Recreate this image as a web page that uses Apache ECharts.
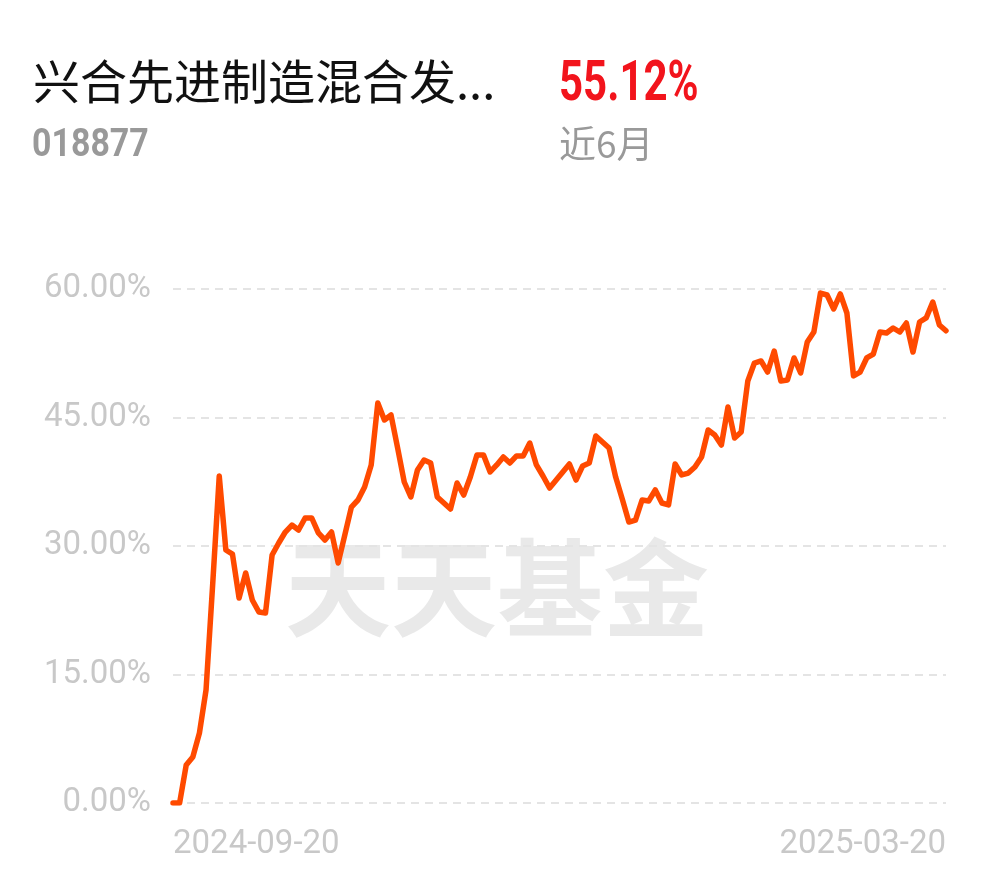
<!DOCTYPE html>
<html>
<head>
<meta charset="utf-8">
<script src="https://cdn.jsdelivr.net/npm/echarts@6/dist/echarts.min.js"></script>
<style>
html,body{margin:0;padding:0;background:#fff;}
#chart{width:990px;height:878px;}
</style>
</head>
<body>
<div id="chart"></div>
<script>
const fundName = '兴合先进制造混合发...';
const fundCode = '018877';
const periodReturn = '55.12%';
const periodLabel = '近6月';
const watermark = '天天基金';

const dates = [
 '2024-09-20','2024-09-23','2024-09-24','2024-09-25','2024-09-26','2024-09-27','2024-09-30',
 '2024-10-08','2024-10-09','2024-10-10','2024-10-11','2024-10-14','2024-10-15','2024-10-16','2024-10-17','2024-10-18',
 '2024-10-21','2024-10-22','2024-10-23','2024-10-24','2024-10-25','2024-10-28','2024-10-29','2024-10-30','2024-10-31',
 '2024-11-01','2024-11-04','2024-11-05','2024-11-06','2024-11-07','2024-11-08','2024-11-11','2024-11-12','2024-11-13',
 '2024-11-14','2024-11-15','2024-11-18','2024-11-19','2024-11-20','2024-11-21','2024-11-22','2024-11-25','2024-11-26',
 '2024-11-27','2024-11-28','2024-11-29',
 '2024-12-02','2024-12-03','2024-12-04','2024-12-05','2024-12-06','2024-12-09','2024-12-10','2024-12-11','2024-12-12',
 '2024-12-13','2024-12-16','2024-12-17','2024-12-18','2024-12-19','2024-12-20','2024-12-23','2024-12-24','2024-12-25',
 '2024-12-26','2024-12-27','2024-12-30','2024-12-31',
 '2025-01-02','2025-01-03','2025-01-06','2025-01-07','2025-01-08','2025-01-09','2025-01-10','2025-01-13','2025-01-14',
 '2025-01-15','2025-01-16','2025-01-17','2025-01-20','2025-01-21','2025-01-22','2025-01-23','2025-01-24','2025-01-27',
 '2025-02-05','2025-02-06','2025-02-07','2025-02-10','2025-02-11','2025-02-12','2025-02-13','2025-02-14','2025-02-17',
 '2025-02-18','2025-02-19','2025-02-20','2025-02-21','2025-02-24','2025-02-25','2025-02-26','2025-02-27','2025-02-28',
 '2025-03-03','2025-03-04','2025-03-05','2025-03-06','2025-03-07','2025-03-10','2025-03-11','2025-03-12','2025-03-13',
 '2025-03-14','2025-03-17','2025-03-18','2025-03-19','2025-03-20'
];

const returns = [
 0.00, 0.00, 4.44, 5.37, 8.17, 13.19, 25.45,
 38.17, 29.53, 29.06, 23.93, 26.85, 23.70, 22.30, 22.18, 28.95,
 30.35, 31.63, 32.45, 31.87, 33.27, 33.27, 31.52, 30.70, 31.63,
 28.02, 31.28, 34.55, 35.37, 36.89, 39.46, 46.70, 44.71, 45.29,
 41.44, 37.47, 35.72, 38.87, 40.04, 39.69, 35.72, 35.02, 34.32,
 37.35, 35.95, 38.05,
 40.62, 40.62, 38.64, 39.46, 40.39, 39.69, 40.51, 40.51, 42.02,
 39.46, 38.17, 36.77, 37.70, 38.64, 39.57, 37.70, 39.34, 39.69,
 42.84, 42.14, 41.44, 38.05,
 35.49, 32.80, 33.03, 35.37, 35.25, 36.54, 35.02, 34.79, 39.57,
 38.29, 38.52, 39.22, 40.39, 43.54, 42.96, 41.79, 46.23, 42.61,
 43.31, 49.26, 51.36, 51.60, 50.31, 52.76, 49.26, 49.38, 51.95,
 50.20, 53.81, 54.98, 59.53, 59.30, 57.67, 59.42, 57.20, 49.86,
 50.31, 51.95, 52.41, 54.98, 54.86, 55.45, 54.98, 56.03, 52.64,
 56.15, 56.62, 58.48, 55.80, 55.12
];

const yMin = 0, yMax = 60, yStep = 15;

const chart = echarts.init(document.getElementById('chart'), null, {renderer: 'canvas'});
const lastIdx = dates.length - 1;

chart.setOption({
  backgroundColor: '#ffffff',
  animation: false,
  graphic: [
    {type: 'text', x: 33, y: 58, z: 10,
     style: {text: fundName, font: '400 47px "Noto Sans CJK SC", sans-serif', fill: '#111111'}},
    {type: 'text', x: 32, y: 127, scaleX: 0.87, z: 10,
     style: {text: fundCode, font: 'bold 39px Roboto, sans-serif', fill: '#999999'}},
    {type: 'text', x: 559, y: 58, scaleX: 0.75, z: 10,
     style: {text: periodReturn, font: 'bold 56px Roboto, sans-serif', fill: '#f2141c'}},
    {type: 'text', x: 559, y: 125, z: 10,
     style: {text: periodLabel, font: '400 37px "Noto Sans CJK SC", sans-serif', fill: '#999999'}},
    {type: 'text', x: 285, y: 535, z: -10, silent: true,
     style: {text: watermark, font: 'bold 106px "Noto Sans CJK SC", sans-serif', fill: '#e9e9e9'}}
  ],
  grid: {left: 173, right: 44, top: 289, bottom: 75, containLabel: false},
  xAxis: {
    type: 'category',
    data: dates,
    boundaryGap: false,
    axisLine: {show: false},
    axisTick: {show: false},
    splitLine: {show: false},
    axisLabel: {
      interval: function (idx) { return idx === 0 || idx === lastIdx; },
      showMinLabel: true,
      showMaxLabel: true,
      alignMinLabel: 'left',
      alignMaxLabel: 'right',
      margin: 25,
      color: '#c8c8c8',
      fontSize: 33,
      fontFamily: 'Roboto, sans-serif'
    }
  },
  yAxis: {
    type: 'value',
    min: yMin, max: yMax, interval: yStep,
    axisLine: {show: false},
    axisTick: {show: false},
    axisLabel: {
      margin: 22,
      color: '#c8c8c8',
      fontSize: 33,
      fontFamily: 'Roboto, sans-serif',
      formatter: function (v) { return v.toFixed(2) + '%'; }
    },
    splitLine: {show: true, lineStyle: {type: [8, 6], color: '#e4e4e4', width: 2}}
  },
  series: [{
    type: 'line',
    data: returns,
    symbol: 'none',
    smooth: false,
    lineStyle: {color: '#ff4a00', width: 5.5, join: 'round', cap: 'round'},
    z: 5
  }]
});
</script>
</body>
</html>
